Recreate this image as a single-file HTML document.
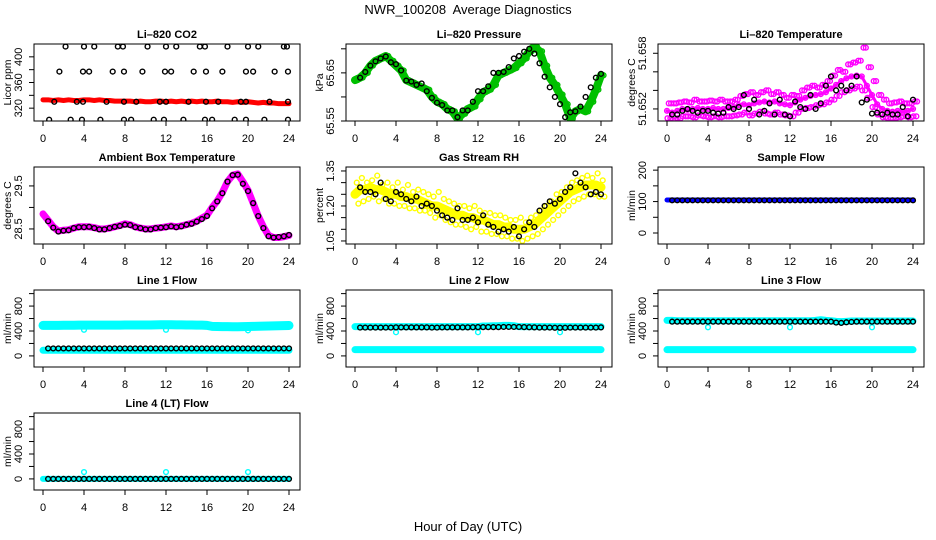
<!DOCTYPE html>
<html><head><meta charset="utf-8"><title>NWR_100208 Average Diagnostics</title>
<style>
html,body{margin:0;padding:0;background:#fff;}
svg{display:block;font-family:"Liberation Sans",Arial,sans-serif;}
</style></head>
<body>
<svg id="chart" width="936" height="540" viewBox="0 0 936 540" xmlns="http://www.w3.org/2000/svg">
<rect width="936" height="540" fill="#fff"/>
<text x="468" y="14" text-anchor="middle" font-size="13" xml:space="preserve">NWR_100208  Average Diagnostics</text>
<text x="468" y="531" text-anchor="middle" font-size="13">Hour of Day (UTC)</text>
</svg>
<script>
const xTicks = [0,4,8,12,16,20,24];
const tC = [0,0.5,1,1.5,2,2.5,3,3.5,4,4.5,5,5.5,6,6.5,7,7.5,8,8.5,9,9.5,10,10.5,11,11.5,12,12.5,13,13.5,14,14.5,15,15.5,16,16.5,17,17.5,18,18.5,19,19.5,20,20.5,21,21.5,22,22.5,23,23.5,24];
const tB = [0.5,1,1.5,2,2.5,3,3.5,4,4.5,5,5.5,6,6.5,7,7.5,8,8.5,9,9.5,10,10.5,11,11.5,12,12.5,13,13.5,14,14.5,15,15.5,16,16.5,17,17.5,18,18.5,19,19.5,20,20.5,21,21.5,22,22.5,23,23.5,24];

const co2Red = [333,333,332,333,332,333,332,332,333,333,332,333,332,332,331,331,331,331,330,331,330,330,331,331,330,331,330,331,330,331,330,331,330,330,331,330,330,329,330,329,330,329,328,329,328,328,327,327,327];
const co2BlackHour = [2.2,4,5,7.3,7.8,10.2,12,13,15.3,15.8,18,20,21,23.5,23.8, 1.6,3.9,4.5,6.8,7.9,9.7,11.9,12.5,14.7,15.9,17.5,19.8,20.5,22.6,23.9, 0.6,2.7,3.8,5.6,7.9,8.6,10.8,11.8,13.7,15.8,16.5,18.7,19.8,21.6,23.9, 1.1,3.3,3.9,6.2,7.9,9.1,11.4,12,14.2,15.9,17.1,19.3,19.8,22.1,23.9];
const co2BlackPpm = [416,416,416,416,416,416,416,416,416,416,416,416,416,416,416, 377,377,377,377,377,377,377,377,377,377,377,377,377,377,377, 302,302,302,302,302,302,302,302,302,302,302,302,302,302,302, 330,330,330,330,330,330,330,330,330,330,330,330,330,330,330];

const presGreen = [65.635,65.64,65.65,65.665,65.675,65.68,65.685,65.675,65.665,65.655,65.635,65.63,65.625,65.62,65.615,65.6,65.59,65.585,65.575,65.57,65.555,65.565,65.575,65.58,65.595,65.61,65.615,65.625,65.645,65.65,65.655,65.66,65.67,65.68,65.695,65.705,65.695,65.665,65.64,65.625,65.605,65.585,65.555,65.57,65.575,65.57,65.59,65.615,65.645];
const presBlack = [65.64,65.652,65.665,65.674,65.68,65.684,65.672,65.668,65.655,65.634,65.632,65.625,65.628,65.612,65.598,65.588,65.583,65.572,65.572,65.558,65.572,65.572,65.59,65.612,65.612,65.622,65.65,65.65,65.652,65.662,65.68,65.685,65.694,65.7,65.69,65.67,65.642,65.62,65.6,65.585,65.558,65.568,65.57,65.58,65.6,65.62,65.64,65.648];

const tempMag = [51.6518,51.6516,51.6518,51.652,51.6519,51.652,51.6521,51.652,51.652,51.6521,51.652,51.652,51.6521,51.6522,51.6524,51.6525,51.6524,51.6526,51.6527,51.6528,51.6527,51.6528,51.6526,51.6525,51.6524,51.6527,51.653,51.6532,51.6534,51.6535,51.6536,51.6538,51.6542,51.6546,51.655,51.6553,51.6555,51.6556,51.6555,51.6545,51.6535,51.6525,51.652,51.6518,51.6517,51.6518,51.6517,51.6518,51.652];
const tempMagHi = [51.6526,51.6526,51.6527,51.6528,51.6527,51.653,51.6528,51.6528,51.6529,51.6528,51.653,51.6528,51.6528,51.653,51.6534,51.6536,51.6538,51.6535,51.6538,51.654,51.6536,51.6538,51.6535,51.6532,51.6535,51.6534,51.654,51.6543,51.6545,51.6543,51.6546,51.655,51.6556,51.6562,51.656,51.6568,51.657,51.6572,51.6586,51.6565,51.655,51.6535,51.653,51.6526,51.6527,51.6528,51.6526,51.6526,51.6528];
const tempMagLo = [51.651,51.6508,51.651,51.6512,51.6512,51.6511,51.6513,51.6512,51.6511,51.6512,51.6511,51.6512,51.6512,51.6513,51.6514,51.6516,51.6513,51.6515,51.6517,51.6515,51.6514,51.6516,51.6514,51.6513,51.6512,51.6516,51.652,51.6521,51.6522,51.6524,51.6525,51.6527,51.653,51.6534,51.6538,51.654,51.6542,51.6544,51.654,51.6532,51.6522,51.6514,51.6511,51.651,51.651,51.6511,51.6512,51.6511,51.6512];
const tempBlack = [51.6514,51.6514,51.6518,51.652,51.6518,51.6516,51.6518,51.6518,51.6516,51.6515,51.6516,51.6522,51.652,51.6522,51.6535,51.652,51.653,51.6514,51.6518,51.6526,51.6514,51.653,51.6514,51.6512,51.6528,51.6522,51.652,51.6535,51.652,51.6526,51.6545,51.6555,51.654,51.6545,51.654,51.6545,51.6555,51.6527,51.653,51.6515,51.6516,51.6514,51.6516,51.6514,51.6514,51.6522,51.6512,51.653];

const ambMag = [28.85,28.7,28.55,28.45,28.47,28.48,28.52,28.55,28.55,28.55,28.53,28.5,28.5,28.52,28.55,28.58,28.62,28.6,28.55,28.52,28.5,28.5,28.52,28.53,28.55,28.57,28.55,28.57,28.6,28.63,28.68,28.75,28.82,29.0,29.15,29.35,29.6,29.75,29.78,29.6,29.4,29.1,28.8,28.55,28.35,28.3,28.3,28.32,28.35];
const ambBlack = [28.68,28.53,28.44,28.46,28.47,28.52,28.54,28.54,28.55,28.52,28.49,28.49,28.52,28.55,28.57,28.6,28.59,28.54,28.52,28.49,28.49,28.52,28.53,28.54,28.56,28.54,28.56,28.6,28.62,28.67,28.73,28.8,28.98,29.14,29.33,29.6,29.75,29.76,29.55,29.38,29.1,28.8,28.52,28.33,28.3,28.31,28.33,28.36];

const rhYel = [1.25,1.27,1.27,1.28,1.27,1.27,1.26,1.25,1.25,1.24,1.24,1.23,1.23,1.22,1.21,1.2,1.2,1.19,1.18,1.17,1.16,1.16,1.15,1.15,1.14,1.14,1.13,1.12,1.12,1.11,1.11,1.1,1.1,1.1,1.11,1.12,1.14,1.16,1.18,1.2,1.22,1.24,1.26,1.27,1.28,1.29,1.29,1.29,1.28];
const rhYelHi = [1.3,1.32,1.3,1.31,1.33,1.29,1.3,1.28,1.3,1.27,1.29,1.26,1.27,1.26,1.25,1.24,1.26,1.23,1.22,1.21,1.2,1.2,1.19,1.2,1.18,1.17,1.17,1.16,1.16,1.15,1.14,1.14,1.15,1.13,1.15,1.16,1.18,1.2,1.22,1.25,1.26,1.28,1.3,1.31,1.32,1.33,1.32,1.34,1.31];
const rhYelLo = [1.21,1.22,1.23,1.24,1.22,1.23,1.21,1.21,1.2,1.2,1.19,1.19,1.18,1.18,1.17,1.15,1.16,1.14,1.13,1.12,1.12,1.11,1.1,1.11,1.09,1.09,1.08,1.08,1.07,1.07,1.06,1.06,1.05,1.06,1.07,1.08,1.1,1.12,1.14,1.16,1.18,1.2,1.22,1.23,1.24,1.25,1.25,1.24,1.24];
const rhBlack = [1.28,1.26,1.26,1.25,1.3,1.23,1.22,1.26,1.25,1.23,1.22,1.24,1.20,1.21,1.2,1.18,1.16,1.15,1.14,1.19,1.14,1.14,1.15,1.13,1.16,1.12,1.11,1.09,1.10,1.09,1.11,1.07,1.10,1.13,1.11,1.18,1.20,1.22,1.21,1.23,1.26,1.28,1.34,1.30,1.28,1.25,1.26,1.25];

const sampleBlue = [105,105,105,105,105,105,105,105,105,105,105,105,105,105,105,105,105,105,105,105,105,105,105,105,105,105,105,105,105,105,105,105,105,105,105,105,105,105,105,105,105,105,105,105,105,105,105,105,105];
const sampleBlack = [104,104,104,104,104,104,104,104,104,104,104,104,104,104,104,104,104,104,104,104,104,104,104,104,104,104,104,104,104,104,104,104,104,104,104,104,104,104,104,104,104,104,104,104,104,104,104,104];

const outHour = [4,12,20];
const l1CyanHi = [490,490,490,490,492,492,492,494,494,494,494,494,494,494,494,494,496,496,496,496,496,496,498,500,500,500,498,498,496,496,494,494,490,474,472,470,470,468,468,470,472,474,476,478,480,482,484,486,488];
const l1CyanLo = [90,90,90,90,90,90,90,90,90,90,90,90,90,90,90,90,90,90,90,90,90,90,90,90,90,90,90,90,90,90,90,90,90,90,90,90,90,90,90,90,90,90,90,90,90,90,90,90,90];
const l1Black = [120,120,120,120,120,120,120,120,120,120,120,120,120,120,120,120,120,120,120,120,120,120,120,120,120,120,120,120,120,120,120,120,120,120,120,120,120,120,120,120,120,120,120,120,120,120,120,120];
const l1Out = [420,420,410];
const l2CyanHi = [470,470,470,470,470,470,470,470,470,470,470,470,470,470,470,470,470,470,470,470,470,470,470,470,470,480,480,485,485,490,490,485,470,470,470,470,470,470,470,470,470,470,470,470,470,470,470,470,470];
const l2CyanLo = [100,100,100,100,100,100,100,100,100,100,100,100,100,100,100,100,100,100,100,100,100,100,100,100,100,100,100,100,100,100,100,100,100,100,100,100,100,100,100,100,100,100,100,100,100,100,100,100,100];
const l2Black = [455,455,455,455,455,455,455,458,458,458,458,458,458,458,455,455,458,458,458,458,458,458,460,462,462,462,462,462,465,465,465,465,462,460,458,455,455,455,452,452,452,455,455,455,455,455,455,458];
const l2Out = [380,380,380];
const l3CyanHi = [570,570,565,565,565,565,565,565,565,565,565,565,565,565,565,565,565,565,565,565,565,565,565,565,565,565,565,565,565,570,580,570,565,555,550,555,560,560,560,560,560,560,560,560,560,560,560,560,560];
const l3CyanLo = [100,100,100,100,100,100,100,100,100,100,100,100,100,100,100,100,100,100,100,100,100,100,100,100,100,100,100,100,100,100,100,100,100,100,100,100,100,100,100,100,100,100,100,100,100,100,100,100,100];
const l3Black = [550,550,550,550,550,550,550,550,550,550,550,550,550,550,550,550,550,550,550,550,550,550,550,550,550,550,550,550,550,550,550,550,535,530,540,545,550,550,550,550,550,550,550,550,550,550,550,550];
const l3Out = [460,460,460];
const l4Cyan = [0,0,0,0,0,0,0,0,0,0,0,0,0,0,0,0,0,0,0,0,0,0,0,0,0,0,0,0,0,0,0,0,0,0,0,0,0,0,0,0,0,0,0,0,0,0,0,0,0];
const l4Black = [0,0,0,0,0,0,0,0,0,0,0,0,0,0,0,0,0,0,0,0,0,0,0,0,0,0,0,0,0,0,0,0,0,0,0,0,0,0,0,0,0,0,0,0,0,0,0,0];
const l4Out = [110,110,110];

const flowTicks = [0,200,400,600,800,1000];
const flowLabels = ['0','','400','','800',''];

const svg = document.getElementById('chart');
const NS = 'http://www.w3.org/2000/svg';
function mk(tag, attrs, parent){
  const e = document.createElementNS(NS, tag);
  for (const k in attrs) e.setAttribute(k, attrs[k]);
  (parent||svg).appendChild(e);
  return e;
}
let clipId = 0;
function panel(col, row, name, title, ylab, ymin, ymax, yTicks, yLabels){
  const x0 = 43 + 312*col, L = x0 - 9, R = x0 + 257;
  const T = 44 + 123*row, B = T + 77;
  const g = mk('g', {});
  
  
  const xs = h => x0 + h * 246/24;
  const ys = v => B - (v - ymin) / (ymax - ymin) * 77;
  const t = mk('text', {x:(L+R)/2, y:T-6, 'text-anchor':'middle', 'font-size':'11', 'font-weight':'bold'}, g);
  
  
  t.textContent = title;
  const yt = mk('text', {transform:`translate(${L-23},${(T+B)/2}) rotate(-90)`, 'text-anchor':'middle', 'font-size':'10.5'}, g);
  
  
  yt.textContent = ylab;
  const ax = mk('g', {stroke:'#000', 'stroke-width':'1'}, g);
  
  
  xTicks.forEach(h => {
    mk('line', {x1:xs(h), x2:xs(h), y1:B, y2:B+5}, ax);
    const lb = mk('text', {x:xs(h), y:B+21, 'text-anchor':'middle', 'font-size':'11', stroke:'none'}, ax);
    
    
    lb.textContent = h;
  });
  const ay = mk('g', {stroke:'#000', 'stroke-width':'1'}, g);
  
  
  yTicks.forEach((v,i) => {
    const y = ys(v);
    if (y < T-0.5 || y > B+0.5) return;
    mk('line', {x1:L-5, x2:L, y1:y, y2:y}, ay);
    if (yLabels[i]) {
      const lb = mk('text', {transform:`translate(${L-12},${y}) rotate(-90)`, 'text-anchor':'middle', 'font-size':'11', stroke:'none'}, ay);
      
      
      lb.textContent = yLabels[i];
    }
  });
  const id = 'clip' + (clipId++);
  const cp = mk('clipPath', {id:id}, g);
  mk('rect', {x:L, y:T, width:R-L, height:B-T}, cp);
  const plot = mk('g', {'clip-path':`url(#${id})`}, g);
  const box = mk('rect', {x:L, y:T, width:R-L, height:B-T, fill:'none', stroke:'#000', 'stroke-width':'1'}, g);
  
  
  return {
    band(hours, vals, color, w, sname){
      const pl = mk('polyline', {points: hours.map((h,i)=>xs(h)+','+ys(vals[i])).join(' '), fill:'none', stroke:color, 'stroke-width':w, 'stroke-linejoin':'round', 'stroke-linecap':'round'}, plot);
      
      
    },
    pts(hours, vals, color, sname, off){
      const pg = mk('g', {fill:'none', stroke:color, 'stroke-width':'1.4'}, plot);
      
      
      hours.forEach((h,i) => {
        const c = mk('circle', {cx:xs(h+(off||0)), cy:ys(vals[i]), r:2.4}, pg);
        
        
      });
    }
  };
}

let p;
p = panel(0,0,'li820-co2','Li\u2013820 CO2','Licor ppm',300,420,[320,340,360,380,400],['320','','360','','400']);
p.band(tC, co2Red, '#f00', 5, 'co2-red-series');
p.pts(co2BlackHour, co2BlackPpm, '#000', 'co2-black-series');

p = panel(1,0,'li820-pressure','Li\u2013820 Pressure','kPa',65.55,65.71,[65.55,65.6,65.65,65.7],['65.55','','65.65','']);
p.band(tC, presGreen, '#00c000', 8, 'pressure-green-band');
p.pts(tC, presGreen, '#00c000', 'pressure-green-series', 0.25);
p.pts(tB, presBlack, '#000', 'pressure-black-series');

p = panel(2,0,'li820-temperature','Li\u2013820 Temperature','degrees C',51.6507,51.659,[51.652,51.654,51.656,51.658],['51.652','','','51.658']);
p.band(tC, tempMag, '#f0f', 3, 'temp-magenta-band');
p.pts(tC, tempMag, '#f0f', 'temp-magenta-series');
p.pts(tC, tempMagHi, '#f0f', 'temp-magenta-high', 0.17);
p.pts(tC, tempMagLo, '#f0f', 'temp-magenta-low', 0.33);
p.pts(tC, tempMagHi, '#f0f', 'temp-magenta-high-2', 0.4);
p.pts(tC, tempMagLo, '#f0f', 'temp-magenta-low-2', 0.05);
p.pts(tB, tempBlack, '#000', 'temp-black-series');

p = panel(0,1,'ambient-box-temperature','Ambient Box Temperature','degrees C',28.15,29.94,[28.5,29.0,29.5],['28.5','','29.5']);
p.band(tC, ambMag, '#f0f', 7, 'ambient-magenta-band');
p.pts(tB, ambBlack, '#000', 'ambient-black-series');

p = panel(1,1,'gas-stream-rh','Gas Stream RH','percent',1.037,1.367,[1.05,1.10,1.15,1.20,1.25,1.30,1.35],['1.05','','','1.20','','','1.35']);
p.band(tC, rhYel, '#ff0', 9, 'rh-yellow-band');
p.pts(tC, rhYelHi, '#ff0', 'rh-yellow-high', 0.17);
p.pts(tC, rhYelLo, '#ff0', 'rh-yellow-low', 0.33);
p.pts(tB, rhBlack, '#000', 'rh-black-series');

p = panel(2,1,'sample-flow','Sample Flow','ml/min',-35,210,[0,50,100,150,200],['0','','100','','200']);
p.band(tC, sampleBlue, '#0000ff', 5, 'sample-blue-band');
p.pts(tB, sampleBlack, '#000', 'sample-black-series');

p = panel(0,2,'line-1-flow','Line 1 Flow','ml/min',-178,1058,flowTicks,flowLabels);
p.band(tC, l1CyanHi, '#0ff', 9, 'line1-cyan-high');
p.band(tC, l1CyanLo, '#0ff', 7, 'line1-cyan-low');
p.pts(outHour, l1Out, '#0ff', 'line1-cyan-outliers');
p.pts(tB, l1Black, '#000', 'line1-black-series');

p = panel(1,2,'line-2-flow','Line 2 Flow','ml/min',-178,1058,flowTicks,flowLabels);
p.band(tC, l2CyanHi, '#0ff', 7, 'line2-cyan-high');
p.band(tC, l2CyanLo, '#0ff', 7, 'line2-cyan-low');
p.pts(outHour, l2Out, '#0ff', 'line2-cyan-outliers');
p.pts(tB, l2Black, '#000', 'line2-black-series');

p = panel(2,2,'line-3-flow','Line 3 Flow','ml/min',-178,1058,flowTicks,flowLabels);
p.band(tC, l3CyanHi, '#0ff', 7, 'line3-cyan-high');
p.band(tC, l3CyanLo, '#0ff', 7, 'line3-cyan-low');
p.pts(outHour, l3Out, '#0ff', 'line3-cyan-outliers');
p.pts(tB, l3Black, '#000', 'line3-black-series');

p = panel(0,3,'line-4-lt-flow','Line 4 (LT) Flow','ml/min',-178,1058,flowTicks,flowLabels);
p.band(tC, l4Cyan, '#0ff', 6, 'line4-cyan-band');
p.pts(outHour, l4Out, '#0ff', 'line4-cyan-outliers');
p.pts(tB, l4Black, '#000', 'line4-black-series');
</script>
</body></html>
